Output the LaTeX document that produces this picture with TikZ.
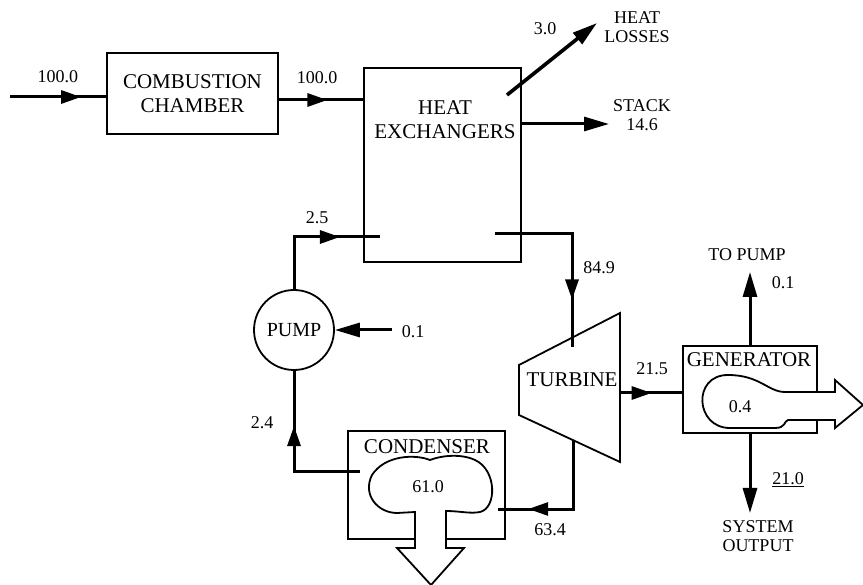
\documentclass[tikz,border=0pt]{standalone}
\usepackage{fontspec}
\setmainfont{Liberation Serif}
\usetikzlibrary{arrows.meta,decorations.markings}

\begin{document}
\begin{tikzpicture}[x=1pt, y=-1pt,
  unit/.style={draw, line width=1.8pt, inner sep=0pt},
  flow/.style={line width=3pt},
  endtip/.style={-{Triangle[length=25pt,width=14pt]}},
  midarrow/.style={postaction={decorate}, decoration={markings,
    mark=at position #1 with {\arrow{Triangle[length=20pt,width=13pt]}}}},
  big/.style={inner sep=0pt, font=\fontsize{21}{24}\selectfont, align=center},
  lbl/.style={inner sep=0pt, font=\fontsize{18}{19}\selectfont, align=center}]
  \useasboundingbox (0,0) rectangle (863,585);
  % Chambre de combustion et echangeurs
  \node[unit, big, minimum width=171pt, minimum height=81pt] (cc) at (192.5,93.5) {COMBUSTION\\CHAMBER};
  \node[unit, minimum width=157pt, minimum height=194pt] (hx) at (442.5,165) {};
  \node[big] (hxtext) at (445,120) {HEAT\\EXCHANGERS};
  % Pompe, condenseur, generateur
  \node[unit, circle, minimum size=80pt, font=\fontsize{20}{22}\selectfont] (pump) at (294,330) {PUMP};
  \node[unit, minimum width=157pt, minimum height=108pt] (cond) at (426.5,485) {};
  \node[big] (condtext) at (427,447) {CONDENSER};
  \node[unit, minimum width=134pt, minimum height=87pt] (gen) at (750,389.5) {};
  \node[big] (gentext) at (749,360) {GENERATOR};
  % Turbine (trapeze)
  \coordinate (tlt) at (519,365);
  \coordinate (trt) at (620,313);
  \coordinate (trb) at (620,462);
  \coordinate (tlb) at (519,415);
  \draw[line width=1.8pt] (tlt) -- (trt) -- (trb) -- (tlb) -- cycle;
  \node[big] (turb) at (572,380) {TURBINE};
  % Rejet du condenseur
  \draw[line width=1.8pt, fill=white] (415,512) -- (415,548) -- (397,548) -- (431,585) -- (464,548) -- (446,548) -- (446,511)
    .. controls (460,511) and (470,514) .. (480,512)
    .. controls (497,508) and (497,470) .. (475,460)
    .. controls (460,453) and (440,456) .. (430,460)
    .. controls (415,454) and (385,455) .. (372,475)
    .. controls (362,495) and (378,513) .. (397,513) -- cycle;
  \node[lbl] (condloss) at (428,487) {61.0};
  % Sortie du generateur
  \draw[line width=1.8pt, fill=white] (835,392) -- (835,380) -- (863,405) -- (835,428) -- (835,420) -- (788,420)
    .. controls (784,421) and (786,428) .. (775,428) -- (730,428)
    .. controls (695,428) and (692,375) .. (728,375)
    .. controls (760,375) and (768,392) .. (785,392) -- cycle;
  \node[lbl] (genloss) at (740,407) {0.4};
  % Points libres des flux
  \coordinate (fuel) at (10,97);
  \coordinate (hxin) at (364,100);
  \coordinate (lossout) at (507,95);
  \coordinate (losstip) at (597,23);
  \coordinate (stackout) at (521,124);
  \coordinate (stacktip) at (609,124);
  \coordinate (hxret) at (380,237);
  \coordinate (hxout) at (495,234);
  \coordinate (turbin) at (572,347);
  \coordinate (turbout) at (573,440);
  \coordinate (condin) at (498,509);
  \coordinate (condout) at (360,472);
  \coordinate (pumpfeed) at (392,330);
  \coordinate (turbshaft) at (620,393);
  \coordinate (gentop) at (750,272);
  \coordinate (genbot) at (750,513);
  % Flux
  \draw[flow, midarrow=0.74] (fuel) -- (cc.west |- fuel);
  \draw[flow, midarrow=0.57] (cc.east |- hxin) -- (hxin);
  \draw[line width=3.6pt, endtip] (lossout) -- (losstip);
  \draw[flow, endtip] (stackout) -- (stacktip);
  \draw[flow, midarrow=0.71] (pump.north) |- (hxret);
  \draw[flow, midarrow=0.75] (hxout) -| (turbin);
  \draw[flow, midarrow=0.79] (turbout) |- (condin);
  \draw[flow, midarrow=0.67] (condout) -| (pump.south);
  \draw[flow, endtip] (pumpfeed) -- (pump.east);
  \draw[flow, midarrow=0.51] (turbshaft) -- (turbshaft -| gen.west);
  \draw[flow, endtip] (gen.north) -- (gentop);
  \draw[flow, endtip] (gen.south) -- (genbot);
  % Valeurs
  \node[lbl] (l1) at (58,77) {100.0};
  \node[lbl] (l2) at (317,78) {100.0};
  \node[lbl] (l3) at (545,29) {3.0};
  \node[lbl] (losses) at (637,27) {HEAT\\LOSSES};
  \node[lbl] (stack) at (642,115) {STACK\\14.6};
  \node[lbl] (l4) at (317,218) {2.5};
  \node[lbl] (l5) at (599,268) {84.9};
  \node[lbl] (l6) at (413,332) {0.1};
  \node[lbl] (l7) at (262,423) {2.4};
  \node[lbl] (l8) at (550,530) {63.4};
  \node[lbl] (l9) at (652,369) {21.5};
  \node[lbl] (topump) at (747,255) {TO PUMP};
  \node[lbl] (l10) at (783,283) {0.1};
  \node[lbl] (l11) at (788,480) {\underline{21.0}};
  \node[lbl] (sysout) at (758,536) {SYSTEM\\OUTPUT};
\end{tikzpicture}
\end{document}
